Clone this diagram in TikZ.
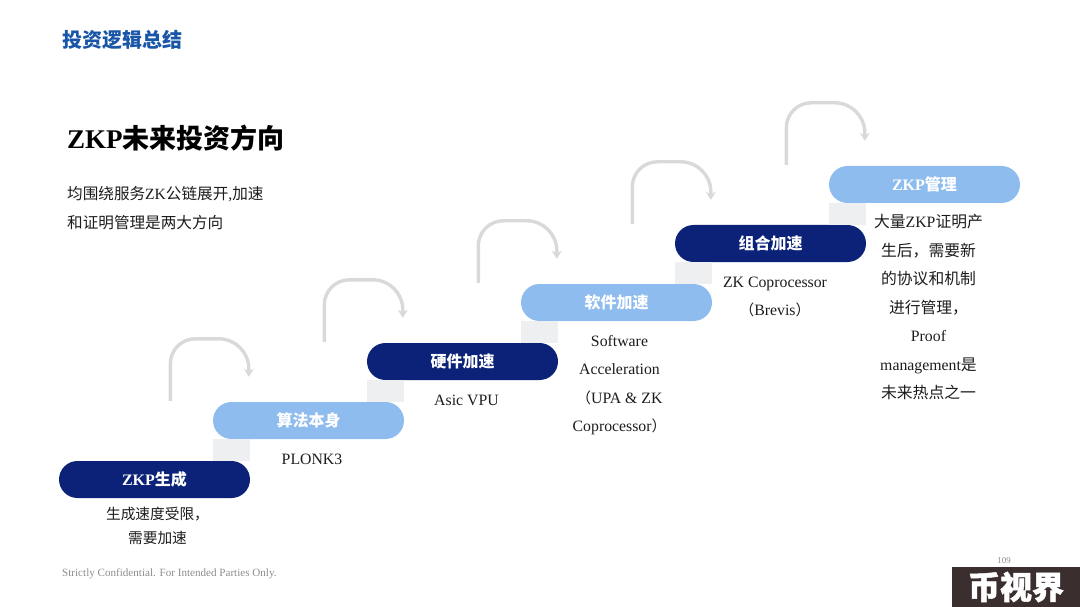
\documentclass[tikz,border=0pt]{standalone}
\usepackage{fontspec}
\usetikzlibrary{arrows.meta}
\setmainfont{Liberation Serif}
\newfontfamily\cjk{Noto Sans CJK SC}
\newfontfamily\cjknote[Scale=0.93]{Noto Sans CJK SC}
\newfontfamily\cjkheavy[BoldFeatures={FakeBold=1.5}]{Noto Sans CJK SC}
\newcommand{\cn}[1]{{\cjk #1}}
\newcommand{\cs}[1]{{\cjknote #1}}
\definecolor{pilldark}{HTML}{0B2278}
\definecolor{pilllight}{HTML}{8FBCEF}
\definecolor{headblue}{HTML}{1A56A8}
\definecolor{stepgrey}{HTML}{EEEFF1}
\definecolor{arcgrey}{HTML}{D9D9D9}
\definecolor{inkgrey}{HTML}{1C1C1C}
\definecolor{footgrey}{HTML}{8C8C8C}
\definecolor{markbrown}{HTML}{3A2E2F}
\tikzset{
  pill/.style={rounded corners=18.5pt,minimum width=191pt,minimum height=37pt,inner sep=0pt,text=white,font=\fontsize{16}{18}\selectfont\bfseries},
  note/.style={inner sep=0pt,align=center,text=inkgrey,font=\fontsize{15.8}{28.5}\selectfont},
  plain/.style={inner sep=0pt,anchor=west},
  hop/.style={arcgrey,line width=3.4pt,-{Stealth[length=8pt,width=10pt]}},
}
\begin{document}
\begin{tikzpicture}[x=1pt,y=-1pt]
\useasboundingbox (0,0) rectangle (1080,607);
\node [plain,text=headblue,font=\fontsize{20}{22}\selectfont\bfseries] (head) at (62,40) {\cn{投资逻辑总结}};
\node [plain,text=black,font=\fontsize{27}{30}\selectfont\bfseries] (title) at (67,138) {ZKP\cn{未来投资方向}};
\node [plain,align=left,text=inkgrey,font=\fontsize{15.6}{28.5}\selectfont] (intro) at (67,208) {\cn{均围绕服务}ZK\cn{公链展开},\cn{加速}\\\cn{和证明管理是两大方向}};
\foreach \i/\px/\py/\colr/\txt in {1/154.5/479.5/pilldark/{ZKP\cn{生成}},2/308.5/420.5/pilllight/{\cn{算法本身}},3/462.5/361.5/pilldark/{\cn{硬件加速}},4/616.5/302.5/pilllight/{\cn{软件加速}},5/770.5/243.5/pilldark/{\cn{组合加速}},6/924.5/184.5/pilllight/{ZKP\cn{管理}}}
  \node [pill,fill=\colr] (p\i) at (\px,\py) {\txt};
\foreach \i/\j in {1/2,2/3,3/4,4/5,5/6} {
  \fill [stepgrey] (p\j.south west) rectangle (p\i.north east);
  \coordinate (u\j) at ([xshift=-42.5pt,yshift=1pt]p\j.north west);
  \coordinate (v\j) at ([xshift=36pt,yshift=25pt]p\j.north west);
  \draw [hop] (u\j) -- ++(0,-37) arc[start angle=180,end angle=90,radius=25pt] -- ++(23.5,0) arc[start angle=90,end angle=0,radius=30pt] -- (v\j);
}
\node [note,font=\fontsize{15.8}{24}\selectfont] (n1) at (157.5,526) {\cs{生成速度受限，}\\\cs{需要加速}};
\node [note] (n2) at (312,459) {PLONK3};
\node [note] (n3) at (466.5,400) {Asic VPU};
\node [note] (n4) at (619.5,385) {Software\\Acceleration\\\cs{（}UPA \& ZK\\Coprocessor\cs{）}};
\node [note] (n5) at (775,297) {ZK Coprocessor\\\cs{（}Brevis\cs{）}};
\node [note] (n6) at (928.5,307.5) {\cn{大量}ZKP\cn{证明产}\\\cn{生后，需要新}\\\cn{的协议和机制}\\\cn{进行管理，}\\Proof\\management\cn{是}\\\cn{未来热点之一}};
\node [plain,text=footgrey,font=\fontsize{11.1}{12}\selectfont] (foot) at (62,573.5) {Strictly Confidential. For Intended Parties Only.};
\node [inner sep=0pt,text=footgrey,font=\fontsize{9}{10}\selectfont] (page) at (1004,561) {109};
\node [fill=markbrown,minimum width=128pt,minimum height=40pt,inner sep=0pt,text=white,font=\fontsize{32}{34}\selectfont] (mark) at (1016,587) {\cjkheavy\bfseries 币视界};
\end{tikzpicture}
\end{document}
